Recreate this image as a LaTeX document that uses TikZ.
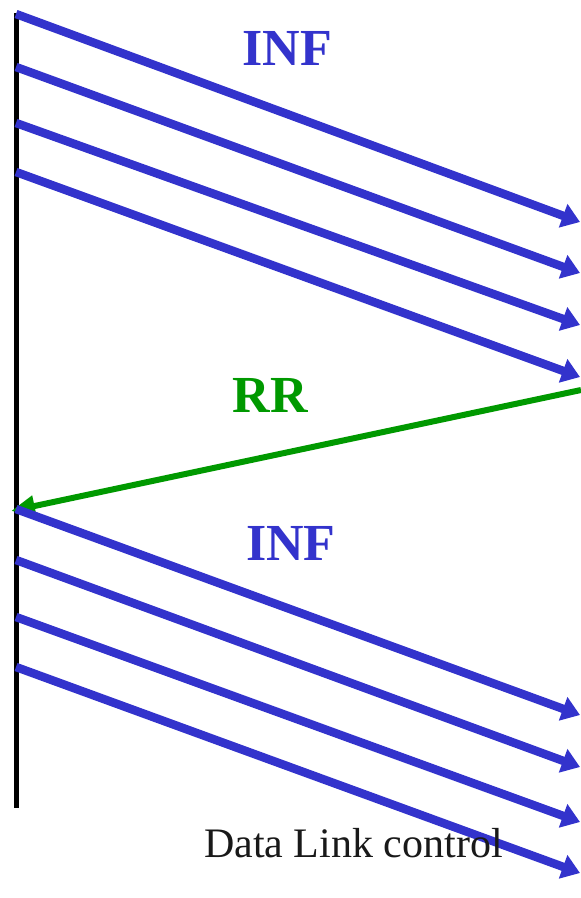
\documentclass[tikz,border=0pt]{standalone}
\usepackage{fontspec}
\setmainfont{Liberation Serif}
\usetikzlibrary{arrows.meta}
\definecolor{bluinf}{RGB}{51,51,204}
\definecolor{verderr}{RGB}{0,153,0}
\begin{document}
\begin{tikzpicture}[
	x=1pt, y=-1pt,
	asse/.style={line width=5pt, black},
	trama/.style={line width=8.5pt, bluinf, -{Triangle[length=18pt,width=24pt]}},
	conferma/.style={line width=6pt, verderr, -{Triangle[length=24pt,width=20pt]}},
	etich/.style={font=\fontsize{52}{52}\selectfont\bfseries, inner sep=0pt, anchor=base},
	didasc/.style={font=\fontsize{42}{42}\selectfont, text=black!90, inner sep=0pt, anchor=base west},
	]
	\useasboundingbox (0,0) rectangle (581,898);
	
	%% asse dei tempi della stazione
	\coordinate (T0) at (16,13);
	\coordinate (T1) at (16,808);
	\draw[asse](T0)--(T1);
	
	%% trame INF (prima serie)
	\foreach \k/\ya/\yb in {1/14/222, 2/67/273, 3/123/325, 4/172/377}{
		\coordinate (A\k) at (16,\ya);
		\coordinate (B\k) at (580,\yb);
		\draw[trama](A\k)--(B\k);}
	
	%% risposta RR
	\coordinate (RRa) at (581,390);
	\coordinate (RRb) at (11,511);
	\draw[conferma](RRa)--(RRb);
	
	%% trame INF (seconda serie)
	\foreach \k/\ya/\yb in {5/509/715, 6/560/767, 7/617/822, 8/667/873}{
		\coordinate (A\k) at (16,\ya);
		\coordinate (B\k) at (580,\yb);
		\draw[trama](A\k)--(B\k);}
	
	%% etichette
	\node[etich, text=bluinf] (inf1) at (287.5,65) {INF};
	\node[etich, text=verderr] (rr) at (270.5,412) {RR};
	\node[etich, text=bluinf] (inf2) at (291,560) {INF};
	\node[didasc] (titolo) at (204,857) {Data Link control};
	
\end{tikzpicture}
\end{document}
